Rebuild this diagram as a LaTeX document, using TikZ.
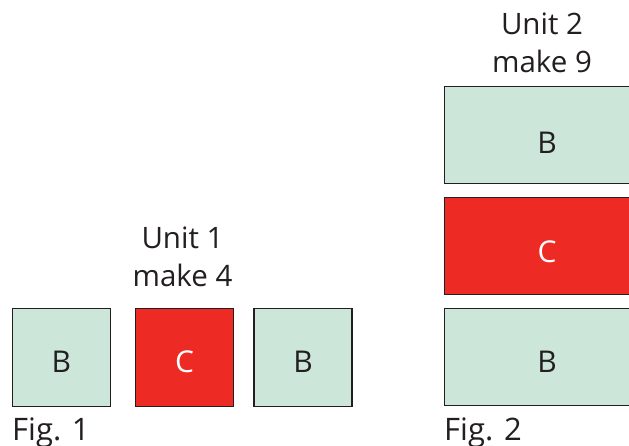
\documentclass[tikz,border=0pt]{standalone}
\usepackage{fontspec}
\setmainfont{Open Sans}
\definecolor{boxgreen}{HTML}{CCE6D9}
\definecolor{boxred}{HTML}{EE2A24}
\definecolor{ink}{HTML}{231F20}
\begin{document}
\begin{tikzpicture}[x=1pt,y=-1pt,
  blk/.style={draw=ink,line width=1.2pt,inner sep=0pt,text height=30pt,text depth=0pt,font=\fontsize{30}{30}\selectfont},
  bbox/.style={blk,fill=boxgreen,text=ink},
  cbox/.style={blk,fill=boxred,text=white},
  sq/.style={minimum width=98pt,minimum height=98pt},
  wide/.style={minimum width=205pt,minimum height=97pt},
  lbl/.style={anchor=base,text=ink,inner sep=0pt,font=\fontsize{29.5}{29.5}\selectfont},
  figlbl/.style={anchor=base west,text=ink,inner sep=0pt,font=\fontsize{31}{31}\selectfont}]
\useasboundingbox (0,0) rectangle (629,446);
% Fig. 1
\node[bbox,sq] (b1) at (61.3,357.2) {B};
\node[cbox,sq] (c1) at (184.5,357.2) {C};
\node[bbox,sq] (b2) at (303,357.2) {B};
\node[lbl] (u1) at (182.5,249) {Unit 1};
\node[lbl] (m1) at (182.5,287) {make 4};
\node[figlbl] (f1) at (12,440) {Fig. 1};
% Fig. 2
\node[bbox,wide,text height=37.4pt] (b3) at (547,135.3) {B};
\node[cbox,wide,text height=32pt] (c2) at (547,246.3) {C};
\node[bbox,wide] (b4) at (547,357.2) {B};
\node[lbl] (u2) at (542,35) {Unit 2};
\node[lbl] (m2) at (542,72.7) {make 9};
\node[figlbl] (f2) at (444,440) {Fig. 2};
\end{tikzpicture}
\end{document}
